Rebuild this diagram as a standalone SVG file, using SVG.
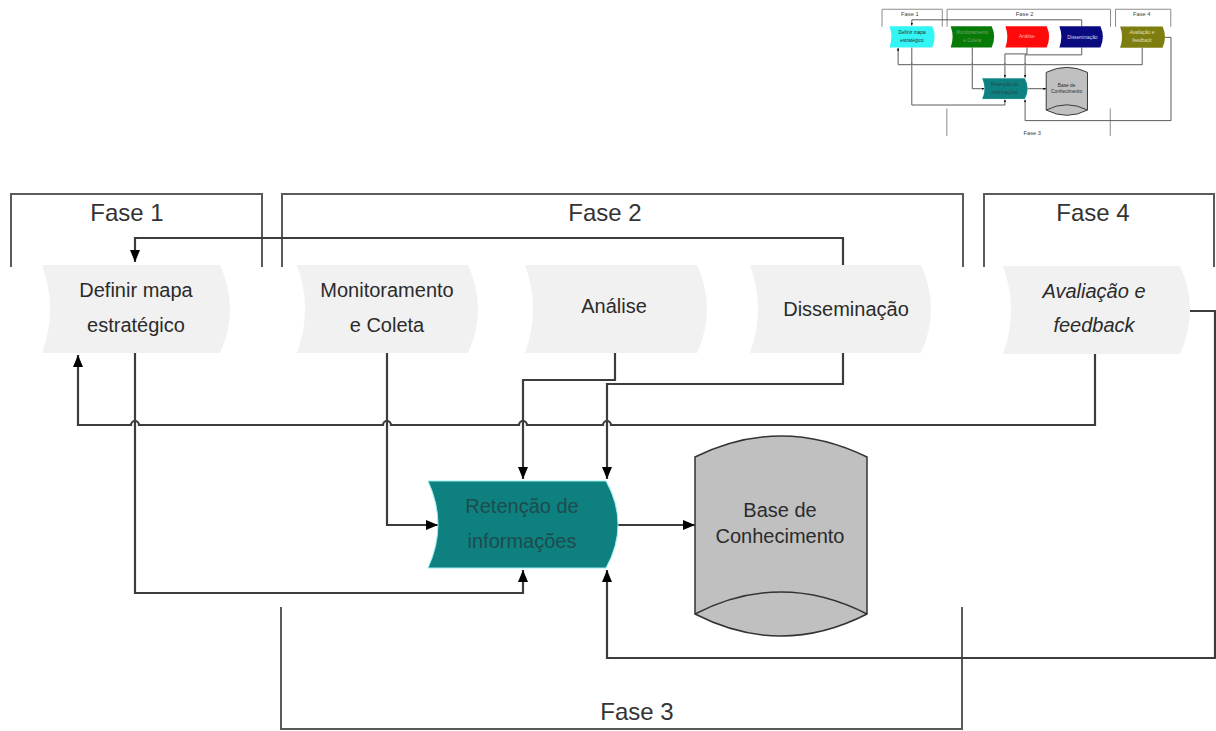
<svg xmlns="http://www.w3.org/2000/svg" width="1216" height="731" viewBox="0 0 1216 731">
<style>
.br{fill:none;stroke:#5a5a5a;stroke-width:2}
.cn{fill:none;stroke:#3c3c3c;stroke-width:2.2}
.nd{fill:#f1f1f1}
.t{font-family:"Liberation Sans",Arial,Helvetica,sans-serif;font-size:20px;fill:#2b2b2b;text-anchor:middle}
.ph{font-size:24px;fill:#333}
.it{font-style:italic}
.ret{fill:#0f8080;stroke:#9ee;stroke-width:1}
.rt{fill:#1e4b4b}
.cyl{fill:#c0c0c0;stroke:#333;stroke-width:1.5}
.th .br{stroke-width:4;stroke:#888}
.th .cn{stroke-width:4;stroke:#555}
.th .ph{fill:#444}
</style>
<defs>
<marker id="ah" markerUnits="userSpaceOnUse" markerWidth="12" markerHeight="10" refX="12" refY="5" orient="auto">
<path d="M0,0 L12,5 L0,10 Z" fill="#000"/>
</marker>
<clipPath id="thc"><rect x="870" y="0" width="346" height="136"/></clipPath>
</defs>
<rect width="1216" height="731" fill="#fff"/>

<!-- ===== Large diagram ===== -->
<g id="phases">
<g id="fase1"><path class="br" d="M11,267 V194 H262 V267"/><text class="t ph" x="127" y="221">Fase 1</text></g>
<g id="fase2"><path class="br" d="M282,267 V194 H963 V267"/><text class="t ph" x="605" y="221">Fase 2</text></g>
<g id="fase4"><path class="br" d="M984,267 V194 H1214 V267"/><text class="t ph" x="1093" y="221">Fase 4</text></g>
<g id="fase3"><path class="br" d="M281,607 V729 H962 V607"/><text class="t ph" x="637" y="720">Fase 3</text></g>
</g>

<g id="connectors">
<path class="cn" d="M843,265 V238 H135 V262" marker-end="url(#ah)"/>
<path class="cn" d="M1095,354 V425 H611 A4,4 0 0 0 603,425 H527 A4,4 0 0 0 519,425 H391 A4,4 0 0 0 383,425 H139 A4,4 0 0 0 131,425 H78 V355" marker-end="url(#ah)"/>
<path class="cn" d="M615,353 V380 H523 V479" marker-end="url(#ah)"/>
<path class="cn" d="M843,353 V384 H607 V479" marker-end="url(#ah)"/>
<path class="cn" d="M387,353 V525 H438" marker-end="url(#ah)"/>
<path class="cn" d="M135,353 V593 H523 V570" marker-end="url(#ah)"/>
<path class="cn" d="M618,525 H695" marker-end="url(#ah)"/>
<path class="cn" d="M1190,311 H1215 V658 H607 V570" marker-end="url(#ah)"/>
</g>

<g id="definir"><path class="nd" d="M42,265 H220 Q240,309 220,353 H42 Q58,309 42,265 Z"/>
<text class="t" x="136" y="297">Definir mapa</text><text class="t" x="136" y="332">estratégico</text></g>
<g id="monitoramento"><path class="nd" d="M297,265 H468 Q488,309 468,353 H297 Q313,309 297,265 Z"/>
<text class="t" x="387" y="297">Monitoramento</text><text class="t" x="387" y="332">e Coleta</text></g>
<g id="analise"><path class="nd" d="M525,265 H697 Q717,309 697,353 H525 Q541,309 525,265 Z"/>
<text class="t" x="614" y="313">Análise</text></g>
<g id="disseminacao"><path class="nd" d="M750,265 H921 Q941,309 921,353 H750 Q766,309 750,265 Z"/>
<text class="t" x="846" y="316">Disseminação</text></g>
<g id="avaliacao"><path class="nd" d="M1003,266 H1180 Q1200,310 1180,354 H1003 Q1019,310 1003,266 Z"/>
<text class="t it" x="1094" y="298">Avaliação e</text><text class="t it" x="1094" y="332">feedback</text></g>
<g id="retencao"><path class="ret" d="M428,481 H606 Q630,524.5 606,568 H428 Q448,524.5 428,481 Z"/>
<text class="t rt" x="522" y="513">Retenção de</text><text class="t rt" x="522" y="548">informações</text></g>
<g id="base"><path class="cyl" d="M695,457 Q781,415 867,457 V614 Q781,658 695,614 Z"/>
<path class="cyl" d="M695,614 Q781,570 867,614" fill="none"/>
<text class="t" x="780" y="517">Base de</text><text class="t" x="780" y="543">Conhecimento</text></g>

<!-- ===== Thumbnail ===== -->
<g id="thumbnail" clip-path="url(#thc)">
<g class="th" transform="translate(879.4,-37.3) scale(0.24)">
<g id="th-phases">
<path class="br" d="M11,267 V194 H262 V267"/><text class="t ph" x="127" y="221">Fase 1</text>
<path class="br" d="M282,267 V194 H963 V267"/><text class="t ph" x="605" y="221">Fase 2</text>
<path class="br" d="M984,267 V194 H1214 V267"/><text class="t ph" x="1093" y="221">Fase 4</text>
<path class="br" d="M281,607 V729 H962 V607"/><text class="t ph" x="637" y="720">Fase 3</text>
</g>
<g id="th-connectors">
<path class="cn" d="M843,265 V238 H135 V262" marker-end="url(#ah)"/>
<path class="cn" d="M1095,354 V425 H611 A4,4 0 0 0 603,425 H527 A4,4 0 0 0 519,425 H391 A4,4 0 0 0 383,425 H139 A4,4 0 0 0 131,425 H78 V355" marker-end="url(#ah)"/>
<path class="cn" d="M615,353 V380 H523 V479" marker-end="url(#ah)"/>
<path class="cn" d="M843,353 V384 H607 V479" marker-end="url(#ah)"/>
<path class="cn" d="M387,353 V525 H438" marker-end="url(#ah)"/>
<path class="cn" d="M135,353 V593 H523 V570" marker-end="url(#ah)"/>
<path class="cn" d="M618,525 H695" marker-end="url(#ah)"/>
<path class="cn" d="M1190,311 H1215 V658 H607 V570" marker-end="url(#ah)"/>
</g>
<g id="th-definir"><path fill="#33f5f5" d="M42,265 H220 Q240,309 220,353 H42 Q58,309 42,265 Z"/>
<text class="t" x="136" y="297">Definir mapa</text><text class="t" x="136" y="332">estratégico</text></g>
<g id="th-monitoramento"><path fill="#087a08" d="M297,265 H468 Q488,309 468,353 H297 Q313,309 297,265 Z"/>
<text class="t" style="fill:#6fa86f" x="387" y="297">Monitoramento</text><text class="t" style="fill:#6fa86f" x="387" y="332">e Coleta</text></g>
<g id="th-analise"><path fill="#ff0a0a" d="M525,265 H697 Q717,309 697,353 H525 Q541,309 525,265 Z"/>
<text class="t" style="fill:#ffb0b0" x="614" y="313">Análise</text></g>
<g id="th-disseminacao"><path fill="#0a0a80" d="M750,265 H921 Q941,309 921,353 H750 Q766,309 750,265 Z"/>
<text class="t" style="fill:#d8d8f0" x="846" y="316">Disseminação</text></g>
<g id="th-avaliacao"><path fill="#7d7d10" d="M1003,266 H1180 Q1200,310 1180,354 H1003 Q1019,310 1003,266 Z"/>
<text class="t it" style="fill:#e0e0c0" x="1094" y="298">Avaliação e</text><text class="t it" style="fill:#e0e0c0" x="1094" y="332">feedback</text></g>
<g id="th-retencao"><path class="ret" d="M428,481 H606 Q630,524.5 606,568 H428 Q448,524.5 428,481 Z"/>
<text class="t rt" x="522" y="513">Retenção de</text><text class="t rt" x="522" y="548">informações</text></g>
<g id="th-base"><path class="cyl" style="stroke-width:4" d="M695,457 Q781,415 867,457 V614 Q781,658 695,614 Z"/>
<path class="cyl" style="stroke-width:4" d="M695,614 Q781,570 867,614" fill="none"/>
<text class="t" x="780" y="517">Base de</text><text class="t" x="780" y="543">Conhecimento</text></g>
</g>
</g>
</svg>
